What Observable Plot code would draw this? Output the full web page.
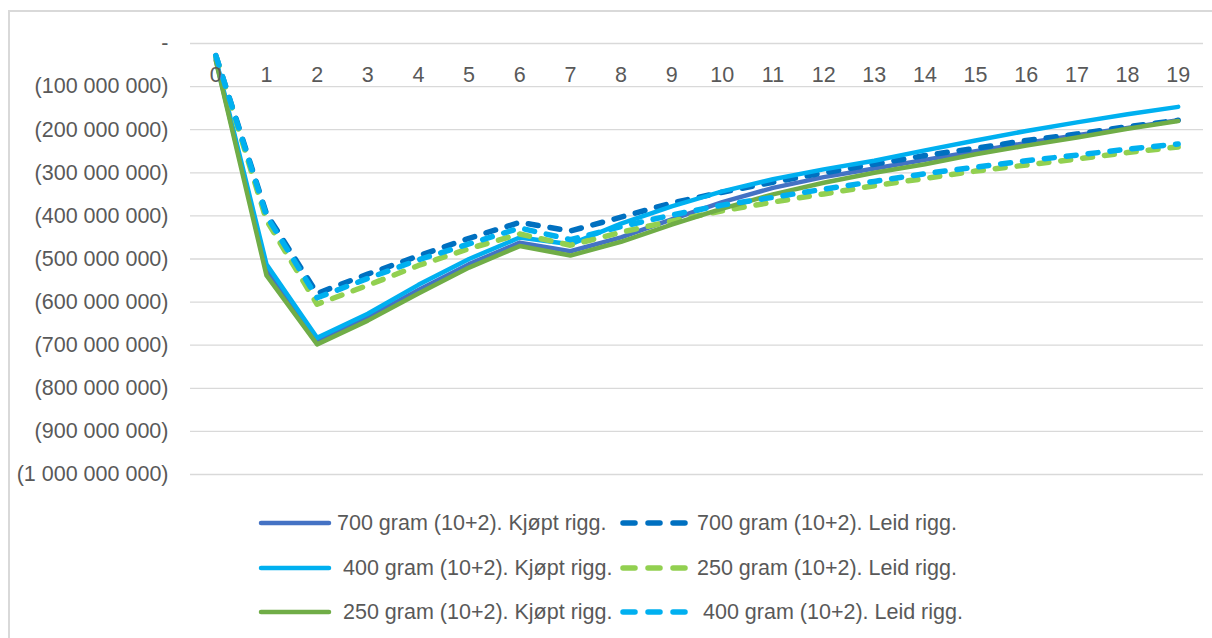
<!DOCTYPE html>
<html>
<head>
<meta charset="utf-8">
<script src="https://cdn.jsdelivr.net/npm/d3@7"></script>
<script src="https://cdn.jsdelivr.net/npm/@observablehq/plot@0.6"></script>
<style>
  html, body { margin: 0; padding: 0; background: #fff; }
  #wrap {
    position: relative; width: 1212px; height: 638px; overflow: hidden;
    font-family: "Liberation Sans", Arial, sans-serif; color: #595959;
  }
  #frame {
    position: absolute; left: 8px; top: 10px; right: -10px; bottom: -10px;
    border-top: 2px solid #d9d9d9; border-left: 2px solid #d9d9d9;
  }
  #chart { position: absolute; left: 0; top: 0; }
  .legend { position: absolute; left: 0; top: 0; width: 1212px; font-size: 21.5px; }
</style>
</head>
<body>
<div id="wrap">
  <div id="frame"></div>
  <div id="chart"></div>
  <div class="legend" id="legend"></div>
</div>
<script>
// Years after start (category axis)
const years = [0, 1, 2, 3, 4, 5, 6, 7, 8, 9, 10, 11, 12, 13, 14, 15, 16, 17, 18, 19];

// Accumulated cash flow per scenario, in millions NOK
const kjopt700 = [-38, -525, -692, -636, -572, -512, -462, -482, -450, -408, -368, -335, -310, -290, -270, -250, -231, -213, -196, -178];
const leid700  = [-28, -395, -580, -535, -493, -452, -415, -435, -403, -370, -345, -322, -300, -280, -260, -243, -225, -210, -193, -178];
const kjopt400 = [-35, -512, -683, -627, -560, -500, -450, -466, -418, -378, -343, -315, -292, -272, -248, -225, -203, -183, -164, -147];
const leid250  = [-30, -410, -605, -561, -515, -476, -442, -468, -438, -412, -388, -368, -349, -330, -313, -296, -282, -268, -253, -240];
const kjopt250 = [-40, -538, -698, -643, -580, -520, -470, -492, -460, -420, -383, -350, -323, -300, -280, -257, -237, -218, -198, -180];
const leid400  = [-28, -400, -590, -545, -502, -465, -428, -455, -425, -398, -375, -357, -338, -320, -302, -287, -272, -259, -245, -233];

const seriesNames = [
  "700 gram (10+2). Kjøpt rigg.",
  "700 gram (10+2). Leid rigg.",
  "400 gram (10+2). Kjøpt rigg.",
  "250 gram (10+2). Leid rigg.",
  "250 gram (10+2). Kjøpt rigg.",
  "400 gram (10+2). Leid rigg."
];
const seriesValues = [kjopt700, leid700, kjopt400, leid250, kjopt250, leid400];
const seriesColors = ["#4472C4", "#0070C0", "#00B0F0", "#92D050", "#70AD47", "#00B0F0"];
const seriesDashed = [false, true, false, true, false, true];

// Value-axis ticks (NOK)
const yTicks = [0, -100e6, -200e6, -300e6, -400e6, -500e6, -600e6, -700e6, -800e6, -900e6, -1000e6];

const MILLION = 1e6;
const DASH = "10,12";
const nb = d3.formatLocale({decimal: ",", thousands: " ", grouping: [3], currency: ["", ""]});
const group = nb.format(",d");
const accounting = v => v === 0 ? "-" : (v < 0 ? `(${group(-v)})` : group(v));

const series = seriesNames.map((name, i) => ({
  name,
  color: seriesColors[i],
  dashed: seriesDashed[i],
  rows: years.map((t, j) => ({t, value: seriesValues[i][j] * MILLION}))
}));

const lineMarks = series.map(s => Plot.line(s.rows, {
  x: "t", y: "value",
  stroke: s.color,
  strokeWidth: s.dashed ? 5.5 : 4.5,
  strokeDasharray: s.dashed ? DASH : null,
  strokeLinecap: "round",
  strokeLinejoin: "round"
}));

const chart = Plot.plot({
  width: 1212,
  height: 490,
  marginLeft: 190,
  marginRight: 9,
  marginTop: 43,
  marginBottom: 16,
  style: {fontFamily: "'Liberation Sans', Arial, sans-serif", fontSize: "21.5px", color: "#595959", background: "transparent"},
  x: {domain: [-0.5, 19.5], axis: null},
  y: {domain: [-1000e6, 0], axis: null},
  marks: [
    Plot.ruleY(yTicks, {stroke: "#d9d9d9", strokeWidth: 1.3, strokeOpacity: 1}),
    Plot.axisY(yTicks, {tickSize: 0, tickPadding: 22, tickFormat: accounting, fill: "#595959", label: null}),
    ...lineMarks,
    Plot.text(years, {x: d => d, y: () => 0, dy: 32, text: d => String(d), fill: "#595959", fontSize: 21.5})
  ]
});
document.getElementById("chart").appendChild(chart);

// Legend: two columns, three rows, in series order
const legendPos = [
  {sx: 258, tx: 337, cy: 523},
  {sx: 620, tx: 697, cy: 523},
  {sx: 258, tx: 343, cy: 568},
  {sx: 620, tx: 697, cy: 568},
  {sx: 258, tx: 343, cy: 612},
  {sx: 620, tx: 703, cy: 612}
];
const legend = document.getElementById("legend");
series.forEach((s, i) => {
  const p = legendPos[i];
  const sw = document.createElementNS("http://www.w3.org/2000/svg", "svg");
  sw.setAttribute("width", 76); sw.setAttribute("height", 10);
  sw.style.position = "absolute"; sw.style.left = p.sx + "px"; sw.style.top = (p.cy - 5) + "px";
  const ln = document.createElementNS("http://www.w3.org/2000/svg", "line");
  ln.setAttribute("x1", 3); ln.setAttribute("x2", 71); ln.setAttribute("y1", 5); ln.setAttribute("y2", 5);
  ln.setAttribute("stroke", s.color); ln.setAttribute("stroke-width", s.dashed ? 5.5 : 4.5);
  ln.setAttribute("stroke-linecap", "round");
  if (s.dashed) ln.setAttribute("stroke-dasharray", "12,13");
  sw.appendChild(ln);
  legend.appendChild(sw);
  const tx = document.createElement("div");
  tx.textContent = s.name;
  tx.style.position = "absolute"; tx.style.left = p.tx + "px"; tx.style.top = (p.cy - 13) + "px";
  tx.style.lineHeight = "26px"; tx.style.whiteSpace = "nowrap";
  legend.appendChild(tx);
});
</script>
</body>
</html>
